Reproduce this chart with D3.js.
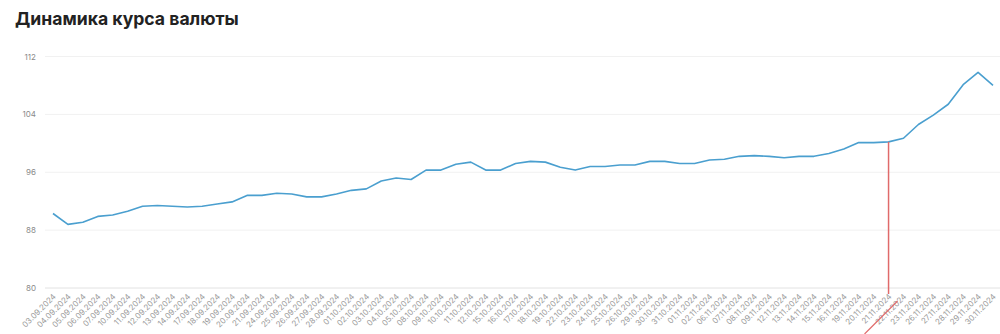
<!DOCTYPE html>
<html>
<head>
<meta charset="utf-8">
<script src="https://cdn.jsdelivr.net/npm/d3@7"></script>
<style>
  body { margin: 0; background: #fff; }
  svg { display: block; font-family: Inter, "Open Sans", sans-serif; }
</style>
</head>
<body>
<svg id="chart"></svg>
<script>
const WIDTH = 1000,
    HEIGHT = 334;

const title = 'Динамика курса валюты';

const dates = [
    '03.09.2024', '04.09.2024', '05.09.2024', '06.09.2024', '07.09.2024',
    '10.09.2024', '11.09.2024', '12.09.2024', '13.09.2024', '14.09.2024',
    '17.09.2024', '18.09.2024', '19.09.2024', '20.09.2024', '21.09.2024',
    '24.09.2024', '25.09.2024', '26.09.2024', '27.09.2024', '28.09.2024',
    '01.10.2024', '02.10.2024', '03.10.2024', '04.10.2024', '05.10.2024',
    '08.10.2024', '09.10.2024', '10.10.2024', '11.10.2024', '12.10.2024',
    '15.10.2024', '16.10.2024', '17.10.2024', '18.10.2024', '19.10.2024',
    '22.10.2024', '23.10.2024', '24.10.2024', '25.10.2024', '26.10.2024',
    '29.10.2024', '30.10.2024', '31.10.2024', '01.11.2024', '02.11.2024',
    '06.11.2024', '07.11.2024', '08.11.2024', '09.11.2024', '12.11.2024',
    '13.11.2024', '14.11.2024', '15.11.2024', '16.11.2024', '19.11.2024',
    '20.11.2024', '21.11.2024', '22.11.2024', '23.11.2024', '26.11.2024',
    '27.11.2024', '28.11.2024', '29.11.2024', '30.11.2024'
];

const rates = [
    90.3, 88.8, 89.1, 89.9, 90.1, 90.6, 91.3, 91.4, 91.3, 91.2,
    91.3, 91.6, 91.9, 92.8, 92.8, 93.1, 93.0, 92.6, 92.6, 93.0,
    93.5, 93.7, 94.8, 95.2, 95.0, 96.3, 96.3, 97.1, 97.4, 96.3,
    96.3, 97.2, 97.5, 97.4, 96.7, 96.3, 96.8, 96.8, 97.0, 97.0,
    97.5, 97.5, 97.2, 97.2, 97.7, 97.8, 98.2, 98.3, 98.2, 98.0,
    98.2, 98.2, 98.6, 99.2, 100.1, 100.1, 100.2, 100.7, 102.6, 103.9,
    105.4, 108.1, 109.8, 108.0
];

const yTicks = [80, 88, 96, 104, 112];

// marked day (red line)
const markerDate = '21.11.2024';

const x = d3.scalePoint()
    .domain(dates)
    .range([53, 993]);

const y = d3.scaleLinear()
    .domain([80, 112])
    .range([288, 56.5]);

const svg = d3.select('svg#chart')
    .attr('width', WIDTH)
    .attr('height', HEIGHT);

svg.append('text')
    .attr('x', 15)
    .attr('y', 25)
    .attr('font-size', 17.6)
    .attr('font-weight', 700)
    .attr('fill', '#222')
    .text(title);

// grid
svg.append('g')
    .attr('class', 'grid')
    .selectAll('line')
    .data(yTicks)
    .enter().append('line')
        .attr('x1', 45)
        .attr('x2', 1000)
        .attr('y1', d => y(d))
        .attr('y2', d => y(d))
        .attr('stroke', d => d === 80 ? '#e2e2e2' : '#f1f1f1')
        .attr('stroke-width', 1);

// y axis labels
const yAxis = svg.append('g')
    .attr('transform', 'translate(36,0)')
    .call(d3.axisLeft(y).tickValues(yTicks).tickSize(0).tickPadding(0));
yAxis.select('.domain').remove();
yAxis.selectAll('text')
    .attr('font-size', 8)
    .attr('font-family', 'Inter, sans-serif')
    .attr('fill', '#8a8a8a');

// x axis labels
const xAxis = svg.append('g')
    .attr('transform', 'translate(0,288)')
    .call(d3.axisBottom(x).tickSize(0).tickPadding(0));
xAxis.select('.domain').remove();
xAxis.selectAll('text')
    .attr('font-size', 8)
    .attr('font-family', 'Inter, sans-serif')
    .attr('fill', '#9a9a9a')
    .attr('text-anchor', 'end')
    .attr('dy', 0)
    .attr('transform', 'translate(3,9) rotate(-45)');

// rate line
const line = d3.line()
    .x((d, i) => x(dates[i]))
    .y(d => y(d));

svg.append('path')
    .datum(rates)
    .attr('fill', 'none')
    .attr('stroke', '#4a9fcf')
    .attr('stroke-width', 1.6)
    .attr('stroke-linejoin', 'round')
    .attr('d', line);

// marker
const mi = dates.indexOf(markerDate);
const mx = x(markerDate);
svg.append('line')
    .attr('x1', mx)
    .attr('x2', mx)
    .attr('y1', y(rates[mi]))
    .attr('y2', 294)
    .attr('stroke', '#e06a6a')
    .attr('stroke-width', 1.5);

svg.append('line')
    .attr('x1', mx + 9)
    .attr('y1', 301)
    .attr('x2', mx - 24)
    .attr('y2', 334)
    .attr('stroke', '#e06a6a')
    .attr('stroke-width', 1.2);
</script>
</body>
</html>
